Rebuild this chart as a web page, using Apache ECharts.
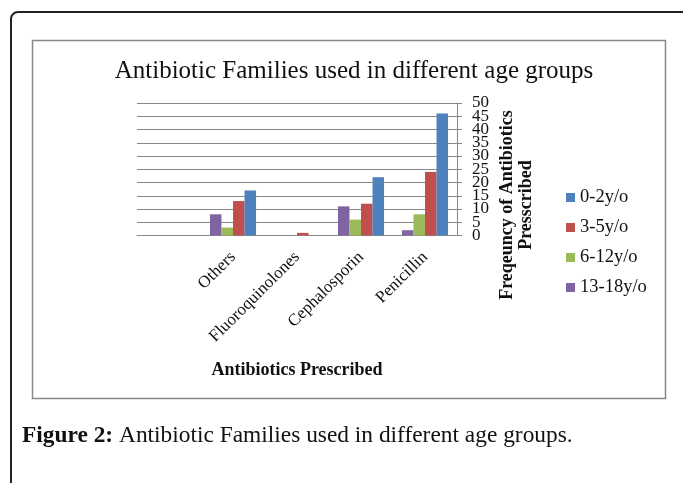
<!DOCTYPE html>
<html><head><meta charset="utf-8">
<script src="https://cdn.jsdelivr.net/npm/echarts@6/dist/echarts.min.js"></script>
<style>html,body{margin:0;padding:0;background:#fff}#c{width:683px;height:483px}</style>
</head><body><div id="c"></div>
<script>
const categories = ['', 'Others', 'Fluoroquinolones', 'Cephalosporin', 'Penicillin'];
const seriesNames = ['0-2y/o', '3-5y/o', '6-12y/o', '13-18y/o'];
const v0_2 = [null, 17, 0, 22, 46];
const v3_5 = [null, 13, 1, 12, 24];
const v6_12 = [null, 3, 0, 6, 8];
const v13_18 = [null, 8, 0, 11, 2];
const yTicks = { min: 0, max: 50, step: 5 };
const yTickLabels = ['0', '5', '10', '15', '20', '25', '30', '35', '40', '45', '50'];

const colors = { '0-2y/o': '#4F81BD', '3-5y/o': '#C0504D', '6-12y/o': '#9BBB59', '13-18y/o': '#8064A2' };
const valuesByName = { '0-2y/o': v0_2, '3-5y/o': v3_5, '6-12y/o': v6_12, '13-18y/o': v13_18 };
const font = '"Liberation Serif", "DejaVu Serif", serif';
const drawOrder = ['13-18y/o', '6-12y/o', '3-5y/o', '0-2y/o'];

const chart = echarts.init(document.getElementById('c'), null, { renderer: 'canvas' });
chart.setOption({
  animation: false,
  backgroundColor: '#fff',
  title: {
    text: 'Antibiotic Families used in different age groups',
    left: 349, top: 54, textAlign: 'center',
    textStyle: { fontFamily: font, fontSize: 25, fontWeight: 'normal', color: '#111' }
  },
  legend: {
    data: seriesNames, orient: 'vertical', left: 566, top: 188,
    itemWidth: 9, itemHeight: 9, itemGap: 11, icon: 'rect', padding: 0,
    textStyle: { fontFamily: font, fontSize: 18.5, color: '#111', lineHeight: 19 }
  },
  grid: { left: 137, right: 226, top: 103, bottom: 247.5, containLabel: false },
  xAxis: {
    type: 'category', data: categories,
    axisLine: { lineStyle: { color: '#888' } },
    axisTick: { show: false },
    axisLabel: { rotate: 45, interval: 0, margin: 19, fontFamily: font, fontSize: 17, color: '#111' },
    name: 'Antibiotics Prescribed', nameLocation: 'middle', nameGap: 126,
    nameTextStyle: { fontFamily: font, fontSize: 18, fontWeight: 'bold', color: '#111' }
  },
  yAxis: [{
    type: 'value', position: 'right', min: yTicks.min, max: yTicks.max, interval: yTicks.step,
    axisLine: { show: true, lineStyle: { color: '#888' } },
    axisTick: { show: true, length: 5, lineStyle: { color: '#888' } },
    splitLine: { lineStyle: { color: '#888' } },
    axisLabel: { show: false }
  }, {
    type: 'category', position: 'right', data: yTickLabels, boundaryGap: false,
    axisLine: { show: false }, axisTick: { show: false }, splitLine: { show: false },
    axisLabel: { interval: 0, margin: 15, fontFamily: font, fontSize: 17, color: '#111', lineHeight: 12 }
  }],
  series: drawOrder.map(n => ({
    name: n, type: 'bar', yAxisIndex: 0, data: valuesByName[n], barGap: '0%', barCategoryGap: '28%',
    itemStyle: { color: colors[n] }
  })),
  graphic: [
    { type: 'rect', shape: { x: 11, y: 12, width: 700, height: 500, r: 7 },
      style: { fill: null, stroke: '#222', lineWidth: 2 }, silent: true },
    { type: 'rect', shape: { x: 32.5, y: 40.5, width: 633, height: 358 },
      style: { fill: null, stroke: '#888', lineWidth: 1.5 }, silent: true },
    { type: 'text', x: 517, y: 205, rotation: Math.PI / 2,
      style: { text: 'Freqeuncy of Antibiotics\nPresscribed', fontFamily: font, fontSize: 18,
        fontWeight: 'bold', fill: '#111', align: 'center', verticalAlign: 'middle', lineHeight: 19 } },
    { type: 'text', x: 22, y: 436,
      style: { text: '{b|Figure 2:} Antibiotic Families used in different age groups.',
        fontFamily: font, fontSize: 23.4, fill: '#111', verticalAlign: 'middle',
        rich: { b: { fontFamily: font, fontSize: 23.4, fontWeight: 'bold', fill: '#111' } } } }
  ]
});
</script></body></html>
